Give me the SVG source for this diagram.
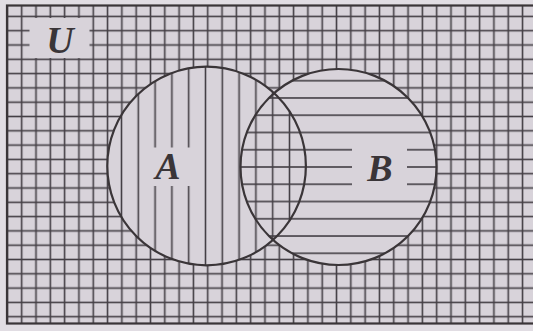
<svg xmlns="http://www.w3.org/2000/svg" width="533" height="331" viewBox="0 0 533 331">
  <style>
    .bg { fill: #d8d3da; }
    .edge { fill: none; stroke: #3a3538; stroke-width: 2.2; }
    .hatch { stroke: #443f45; stroke-width: 1.6; }
    .lbl { font-family: "Liberation Serif", "Times New Roman", serif; font-weight: bold; font-style: italic; font-size: 38px; fill: #3a3538; text-anchor: middle; }
  </style>
  <defs>
    <pattern id="grid" patternUnits="userSpaceOnUse" x="14.545" y="9.25" width="14.31" height="14.3">
      <line class="hatch" x1="7.155" y1="0" x2="7.155" y2="14.3"/>
      <line class="hatch" x1="0" y1="7.15" x2="14.31" y2="7.15"/>
    </pattern>
    <pattern id="vert" patternUnits="userSpaceOnUse" x="113.1" y="0" width="16.8" height="20">
      <line class="hatch" x1="8.4" y1="0" x2="8.4" y2="20"/>
    </pattern>
    <pattern id="horiz" patternUnits="userSpaceOnUse" x="0" y="72.07" width="20" height="17.26">
      <line class="hatch" x1="0" y1="8.63" x2="20" y2="8.63"/>
    </pattern>
    <clipPath id="clipA"><circle cx="206.6" cy="166" r="99.3"/></clipPath>
    <clipPath id="clipB"><circle cx="338.5" cy="167" r="98"/></clipPath>
    <mask id="outside">
      <rect x="0" y="0" width="533" height="331" fill="#fff"/>
      <circle cx="206.6" cy="166" r="99.3" fill="#000"/>
      <circle cx="338.5" cy="167" r="98" fill="#000"/>
    </mask>
  </defs>

  <rect x="0" y="0" width="533" height="331" fill="#e1dde3"/>

  <g id="U">
    <rect class="bg" x="7" y="5.5" width="540" height="318"/>
    <rect x="7" y="5.5" width="540" height="318" fill="url(#grid)" mask="url(#outside)"/>
    <rect class="bg" x="29.5" y="18" width="60" height="40"/>
    <rect class="edge" x="7" y="5.5" width="540" height="318" stroke-width="2.6"/>
    <text class="lbl" x="60" y="53">U</text>
  </g>

  <g id="A">
    <rect x="100" y="60" width="212" height="212" fill="url(#vert)" clip-path="url(#clipA)"/>
    <rect class="bg" x="147" y="147.5" width="49" height="38.5"/>
    <text class="lbl" x="168" y="179">A</text>
  </g>

  <g id="B">
    <rect x="235" y="62" width="210" height="210" fill="url(#horiz)" clip-path="url(#clipB)"/>
    <rect class="bg" x="352" y="141.5" width="55" height="51"/>
    <text class="lbl" x="380" y="180.5">B</text>
  </g>

  <g id="outlines">
    <circle class="edge" cx="206.6" cy="166" r="99.3"/>
    <circle class="edge" cx="338.5" cy="167" r="98"/>
  </g>

  <g id="connectors"/>
</svg>
